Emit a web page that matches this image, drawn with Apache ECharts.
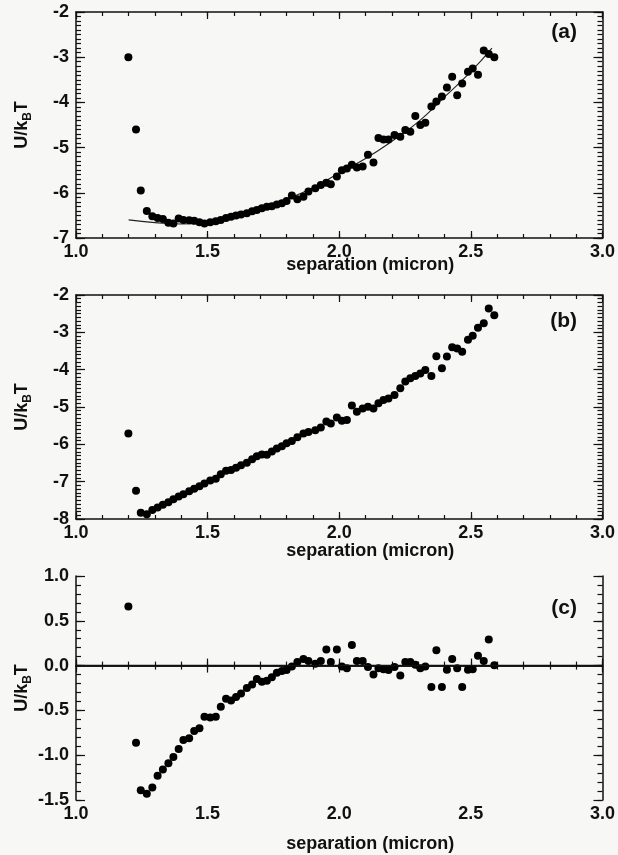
<!DOCTYPE html>
<html>
<head>
<meta charset="utf-8">
<script src="https://cdn.jsdelivr.net/npm/echarts@6/dist/echarts.min.js"></script>
<style>
  html, body { margin: 0; padding: 0; background: #f7f7f6; }
  #chart { width: 618px; height: 855px; }
</style>
</head>
<body>
<div id="chart"></div>
<script>
// separation in micron, shared by the three panels
const separation = [
  1.199, 1.228, 1.246, 1.269, 1.290, 1.310, 1.330, 1.351, 1.370, 1.390,
  1.408, 1.430, 1.449, 1.469, 1.488, 1.510, 1.531, 1.550, 1.570, 1.589,
  1.608, 1.627, 1.649, 1.669, 1.687, 1.706, 1.725, 1.744, 1.763, 1.782,
  1.800, 1.820, 1.841, 1.864, 1.883, 1.909, 1.930, 1.951, 1.968, 1.991,
  2.010, 2.029, 2.048, 2.067, 2.089, 2.109, 2.130, 2.149, 2.168, 2.187,
  2.210, 2.232, 2.251, 2.270, 2.289, 2.308, 2.327, 2.350, 2.369, 2.390,
  2.409, 2.429, 2.448, 2.467, 2.489, 2.507, 2.527, 2.549, 2.568, 2.589
];

// U/kBT, panel (a)
const energyA = [
  -3.00, -4.60, -5.95, -6.40, -6.52, -6.56, -6.58, -6.66, -6.68, -6.57,
  -6.60, -6.61, -6.62, -6.65, -6.68, -6.65, -6.63, -6.60, -6.56, -6.53,
  -6.50, -6.48, -6.45, -6.41, -6.38, -6.34, -6.31, -6.30, -6.26, -6.23,
  -6.18, -6.06, -6.14, -6.09, -5.97, -5.90, -5.83, -5.78, -5.81, -5.64,
  -5.50, -5.46, -5.38, -5.44, -5.42, -5.16, -5.33, -4.79, -4.82, -4.82,
  -4.72, -4.76, -4.61, -4.65, -4.30, -4.50, -4.45, -4.09, -3.98, -3.87,
  -3.67, -3.43, -3.84, -3.58, -3.32, -3.25, -3.39, -2.85, -2.93, -3.00
];

// U/kBT, panel (b)
const energyB = [
  -5.71, -7.24, -7.83, -7.87, -7.76, -7.69, -7.62, -7.55, -7.47, -7.40,
  -7.34, -7.26, -7.19, -7.12, -7.05, -6.97, -6.92, -6.80, -6.71, -6.69,
  -6.63, -6.56, -6.49, -6.40, -6.32, -6.27, -6.28, -6.19, -6.11, -6.05,
  -5.97, -5.91, -5.81, -5.71, -5.67, -5.62, -5.55, -5.39, -5.44, -5.28,
  -5.37, -5.35, -4.96, -5.13, -5.04, -4.99, -5.04, -4.90, -4.81, -4.77,
  -4.68, -4.50, -4.32, -4.23, -4.17, -4.10, -4.01, -4.17, -3.64, -3.96,
  -3.65, -3.40, -3.43, -3.52, -3.20, -3.09, -2.88, -2.76, -2.36, -2.54
];

// U/kBT, panel (c)
const energyC = [
  0.66, -0.86, -1.39, -1.43, -1.36, -1.23, -1.16, -1.09, -1.02, -0.93,
  -0.83, -0.81, -0.73, -0.70, -0.57, -0.58, -0.57, -0.46, -0.37, -0.39,
  -0.35, -0.31, -0.25, -0.21, -0.15, -0.18, -0.17, -0.13, -0.08, -0.06,
  -0.05, -0.01, 0.04, 0.075, 0.05, 0.02, 0.05, 0.18, 0.04, 0.18,
  -0.01, -0.03, 0.23, 0.05, 0.05, -0.015, -0.10, -0.03, -0.04, -0.05,
  -0.015, -0.11, 0.04, 0.04, 0.01, -0.03, -0.01, -0.24, 0.17, -0.24,
  -0.045, 0.075, -0.03, -0.24, -0.045, -0.04, 0.11, 0.05, 0.29, 0.005
];

// fitted curve drawn in panel (a)
const fitSeparation = [1.20, 1.30, 1.40, 1.50, 1.60, 1.70, 1.80, 1.90, 2.00, 2.10, 2.20, 2.30, 2.40, 2.50, 2.58];
const fitEnergyA = [-6.60, -6.66, -6.69, -6.68, -6.55, -6.36, -6.14, -5.89, -5.56, -5.24, -4.86, -4.43, -3.88, -3.32, -2.80];

const panelLabels = ['(a)', '(b)', '(c)'];
const yRanges = [
  { min: -7, max: -2, interval: 1, minor: 0.1, digits: 0 },
  { min: -8, max: -2, interval: 1, minor: 0.1, digits: 0 },
  { min: -1.5, max: 1.0, interval: 0.5, minor: 0.1, digits: 1 }
];

const FONT = '"Liberation Sans", Arial, Helvetica, sans-serif';
const INK = '#111';

const grids = [
  { left: 76, right: 15, top: 12, height: 226 },
  { left: 76, right: 15, top: 295, height: 224 },
  { left: 76, right: 15, top: 576, height: 224 }
];
const xNameGaps = [18, 23, 35];
const labelTops = [22, 311, 598];

// bare axis: optional line and inward ticks, no labels
function frameAxis(extra, tickLen, lineOn) {
  return Object.assign({
    type: 'value',
    axisLine: { show: lineOn, lineStyle: { color: INK, width: 1.5 } },
    axisTick: { show: true, inside: true, length: tickLen, lineStyle: { color: INK, width: 1.2 } },
    splitLine: { show: false },
    axisLabel: { show: false }
  }, extra);
}

const xAxis = [];
const yAxis = [];
grids.forEach((g, i) => {
  const xr = { gridIndex: i, min: 1.0, max: 3.0 };
  // 4*i: labelled bottom axis, then top frame, then the two minor-tick axes
  xAxis.push(frameAxis(Object.assign({}, xr, {
    position: 'bottom', interval: 0.5,
    axisLabel: {
      show: true, margin: 5, color: INK, fontFamily: FONT, fontSize: 18, fontWeight: 'bold',
      formatter: v => v.toFixed(1)
    },
    name: 'separation (micron)',
    nameLocation: 'middle',
    nameGap: xNameGaps[i],
    nameMoveOverlap: false,
    nameTextStyle: { color: INK, fontFamily: FONT, fontSize: 18, fontWeight: 'bold', padding: [0, 0, 0, 62] }
  }), 7, true));
  xAxis.push(frameAxis(Object.assign({}, xr, { position: 'top', interval: 0.5 }), 7, true));
  xAxis.push(frameAxis(Object.assign({}, xr, { position: 'bottom', interval: 0.1 }), 4, false));
  xAxis.push(frameAxis(Object.assign({}, xr, { position: 'top', interval: 0.1 }), 4, false));

  const r = yRanges[i];
  const yr = { gridIndex: i, min: r.min, max: r.max };
  yAxis.push(frameAxis(Object.assign({}, yr, {
    position: 'left', interval: r.interval,
    axisLabel: {
      show: true, margin: 7, color: INK, fontFamily: FONT, fontSize: 18, fontWeight: 'bold',
      formatter: v => (Math.abs(v) < 1e-9 ? 0 : v).toFixed(r.digits)
    },
    name: '{u|U/k}{s|B}{u|T}',
    nameLocation: 'middle',
    nameGap: 42,
    nameMoveOverlap: false,
    nameTextStyle: {
      rich: {
        u: { color: INK, fontFamily: FONT, fontSize: 18, fontWeight: 'bold', lineHeight: 24, verticalAlign: 'middle' },
        s: { color: INK, fontFamily: FONT, fontSize: 12, fontWeight: 'bold', lineHeight: 12, verticalAlign: 'bottom' }
      }
    }
  }), 9, true));
  yAxis.push(frameAxis(Object.assign({}, yr, { position: 'right', interval: r.interval }), 9, true));
  yAxis.push(frameAxis(Object.assign({}, yr, { position: 'left', interval: r.minor }), 5, false));
  yAxis.push(frameAxis(Object.assign({}, yr, { position: 'right', interval: r.minor }), 5, false));
});

const dotStyle = { color: '#000', opacity: 1 };
function points(ys) {
  return separation.map((x, k) => [x, ys[k]]);
}

const series = [
  {
    type: 'line', xAxisIndex: 0, yAxisIndex: 0, z: 1,
    data: fitSeparation.map((x, k) => [x, fitEnergyA[k]]),
    smooth: true, showSymbol: false, silent: true,
    lineStyle: { color: '#222', width: 1.1 }
  },
  {
    type: 'scatter', xAxisIndex: 0, yAxisIndex: 0, z: 2,
    data: points(energyA), symbolSize: 8, itemStyle: dotStyle
  },
  {
    type: 'scatter', xAxisIndex: 4, yAxisIndex: 4,
    data: points(energyB), symbolSize: 8, itemStyle: dotStyle
  },
  {
    type: 'scatter', xAxisIndex: 8, yAxisIndex: 8,
    data: points(energyC), symbolSize: 8, itemStyle: dotStyle,
    markLine: {
      silent: true, symbol: 'none', animation: false,
      label: { show: false },
      lineStyle: { color: INK, width: 1.3, type: 'solid' },
      data: [{ yAxis: 0 }]
    }
  }
];

const chart = echarts.init(document.getElementById('chart'), null, { renderer: 'canvas' });
chart.setOption({
  backgroundColor: '#f7f7f6',
  animation: false,
  title: panelLabels.map((t, i) => ({
    text: t, right: 41, top: labelTops[i], padding: 0,
    textStyle: { color: INK, fontFamily: FONT, fontSize: 21, fontWeight: 'bold' }
  })),
  grid: grids,
  xAxis: xAxis,
  yAxis: yAxis,
  series: series
});
</script>
</body>
</html>
